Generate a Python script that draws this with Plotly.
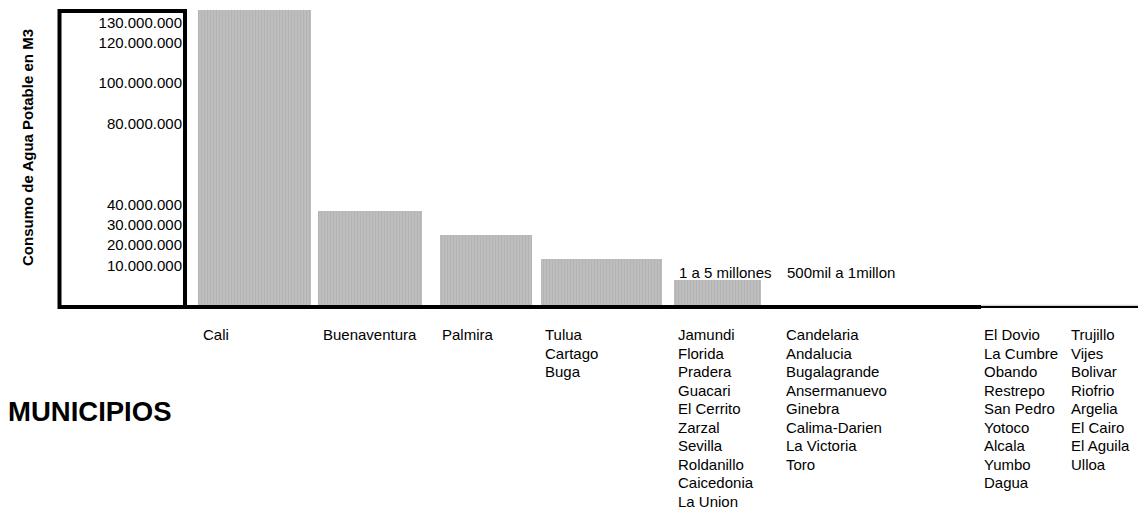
import plotly.graph_objects as go

# ---------------- data ----------------
groups = ["Cali", "Buenaventura", "Palmira", "Tulua-Cartago-Buga",
          "1 a 5 millones", "500mil a 1millon", "menos de 500mil"]
consumo = [136_000_000, 37_000_000, 25_000_000, 13_200_000, 2_900_000, None, None]

group_label_text = ["", "", "", "", "1 a 5 millones", "500mil a 1millon", ""]

municipios = [
    [["Cali"]],
    [["Buenaventura"]],
    [["Palmira"]],
    [["Tulua", "Cartago", "Buga"]],
    [["Jamundi", "Florida", "Pradera", "Guacari", "El Cerrito", "Zarzal",
      "Sevilla", "Roldanillo", "Caicedonia", "La Union"]],
    [["Candelaria", "Andalucia", "Bugalagrande", "Ansermanuevo", "Ginebra",
      "Calima-Darien", "La Victoria", "Toro"]],
    [["El Dovio", "La Cumbre", "Obando", "Restrepo", "San Pedro", "Yotoco",
      "Alcala", "Yumbo", "Dagua"],
     ["Trujillo", "Vijes", "Bolivar", "Riofrio", "Argelia", "El Cairo",
      "El Aguila", "Ulloa"]],
]

tick_vals = [10_000_000, 20_000_000, 30_000_000, 40_000_000,
             80_000_000, 100_000_000, 120_000_000, 130_000_000]
tick_text = ["10.000.000", "20.000.000", "30.000.000", "40.000.000",
             "80.000.000", "100.000.000", "120.000.000", "130.000.000"]

# ---------------- style ----------------
FONT = "Arial, Liberation Sans, sans-serif"
W, H = 1138, 508          # page body has an 8px margin
L, R, T, B = 177, 0, 2, 211
PW, PH = W - L - R, H - T - B
SCREEN_L = 185            # plot left edge on screen
SCREEN_BASE = 305         # plot bottom on screen
y_bottom, y_top = -9_500_000, 136_100_000
x_range = [-0.605, 7.712]
bar_widths = [0.978, 0.900, 0.788, 1.047, 0.753, 0.75, 0.75]
# text left offsets (px) from category centre, one per column
col_shifts = [[-53], [-48], [-45], [-58], [-40], [-48], [35, 122]]

bar_len = [None if v is None else v - y_bottom for v in consumo]

fig = go.Figure()
fig.add_trace(go.Bar(
    x=groups, y=bar_len, base=y_bottom, width=bar_widths,
    marker=dict(color="#b8b8b8", line=dict(width=0),
                pattern=dict(shape="|", size=3, solidity=0.3,
                             fgcolor="#a8a8a8", bgcolor="#bdbdbd")),
    hoverinfo="skip", showlegend=False,
))

px = lambda v: (v - SCREEN_L) / PW
py = lambda v: (SCREEN_BASE - v) / PH

ann = []
# municipality labels
for gi, cols in enumerate(municipios):
    for ci, col in enumerate(cols):
        for k, name in enumerate(col):
            ann.append(dict(
                x=groups[gi], xref="x", y=0, yref="paper",
                xanchor="left", yanchor="middle",
                xshift=col_shifts[gi][ci], yshift=-29.5 - 18.5 * k,
                text=name, showarrow=False, borderpad=0,
                font=dict(family=FONT, size=15, color="#000"),
            ))
# group labels above the small bars
for gi, t in enumerate(group_label_text):
    if t:
        ann.append(dict(
            x=groups[gi], xref="x", y=0, yref="paper",
            xanchor="left", yanchor="middle",
            xshift=col_shifts[gi][0] + 1, yshift=33,
            text=t, showarrow=False, borderpad=0,
            font=dict(family=FONT, size=15, color="#000"),
        ))
# y axis title
ann.append(dict(
    x=px(27.5), xref="paper", y=py(147.5), yref="paper",
    xanchor="center", yanchor="middle", textangle=-90,
    text="<b>Consumo de Agua Potable en M3</b>", showarrow=False,
    font=dict(family=FONT, size=15, color="#000"),
))
# x axis title
ann.append(dict(
    x=px(6), xref="paper", y=py(411), yref="paper",
    xanchor="left", yanchor="middle",
    text="<b>MUNICIPIOS</b>", showarrow=False,
    font=dict(family=FONT, size=27.5, color="#000"),
))

shapes = [
    # box around the value labels
    dict(type="rect", xref="paper", yref="paper",
         x0=px(59.5), x1=px(185), y0=py(307), y1=py(11),
         line=dict(color="#000", width=4), fillcolor="rgba(0,0,0,0)"),
    # thick baseline
    dict(type="line", xref="paper", yref="paper",
         x0=px(59.5), x1=px(981), y0=py(307), y1=py(307),
         line=dict(color="#000", width=4)),
    # thin continuation
    dict(type="line", xref="paper", yref="paper",
         x0=px(981), x1=px(1146), y0=py(305.3), y1=py(305.3),
         line=dict(color="#c8c8c8", width=1)),
    dict(type="line", xref="paper", yref="paper",
         x0=px(981), x1=px(1146), y0=py(307), y1=py(307),
         line=dict(color="#000", width=2)),
]

fig.update_layout(
    width=W, height=H,
    margin=dict(l=L, r=R, t=T, b=B, pad=0),
    paper_bgcolor="white", plot_bgcolor="white",
    font=dict(family=FONT, size=15, color="#000"),
    bargap=0,
    xaxis=dict(type="category", range=x_range, showticklabels=False,
               showgrid=False, zeroline=False, showline=False, ticks=""),
    yaxis=dict(range=[y_bottom, y_top], tickvals=tick_vals, ticktext=tick_text,
               showgrid=False, zeroline=False, showline=False, ticks="",
               ticklabelstandoff=2,
               tickfont=dict(family=FONT, size=15, color="#000")),
    annotations=ann, shapes=shapes,
)

fig.write_html("out.html")
